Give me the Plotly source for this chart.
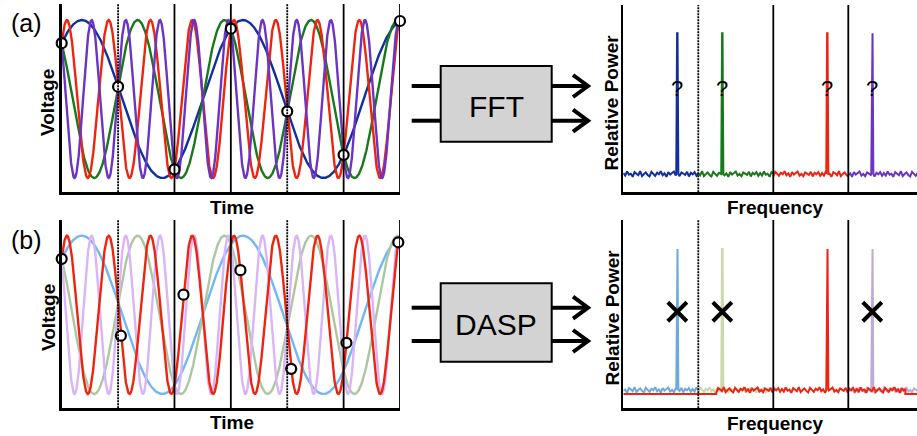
import numpy as np
import plotly.graph_objects as go

W, H = 917, 436
FONT = "Liberation Sans, Arial, sans-serif"

# ---------------- data ----------------
TIME_FREQS = [0.35, 0.65, 1.35, 1.65]          # cycles per sample interval
TIME_PHASES_DEG = [-45, 45, -45, 45]
TIME_COLORS_A = ["#10309E", "#18781A", "#EE2410", "#6C34C2"]
TIME_COLORS_B = ["#72B6F6", "#AEC6A0", "#EE2410", "#D9B5F7"]
DRAW_ORDER_B = [0, 1, 3, 2]
SAMPLE_TIMES_A = [0, 1, 2, 3, 4, 5, 6]
SAMPLE_TIMES_B = [0, 1.05, 2.16, 3.17, 4.07, 5.05, 5.97]
TIME_DIVIDERS = [1, 2, 3, 4, 5, 6]
TIME_DOTTED = [1, 4]

PEAK_FREQS = [0.36, 0.66, 1.36, 1.66]
ZONE_EDGES = [0.0, 0.5, 1.0, 1.5, 1.958]
SPEC_COLORS_A = ["#10309E", "#18781A", "#EE2410", "#6C34C2"]
SPEC_COLORS_B = ["#6EA9DE", "#C9D9AA", None, "#BDABD3"]
RED = "#EE2410"
RED_B_NOISY_SPAN = [0.62, 1.88]
RED_B_FLAT_LEVEL = -0.028
FREQ_DIVIDERS = [0.5, 1.0, 1.5]
FREQ_DOTTED = [0.5]
X_MARK_FREQS = [0.36, 0.66, 1.66]
NOISE = [0.3, -0.5, 0.8, -0.2, 0.1, -0.9, 0.6, 0.2, -0.4, 0.9, -0.7, 0.0, 0.5,
         -0.3, -0.8, 0.7, 0.1, -0.6, 0.4, -0.1, 0.9, -0.4, 0.2, -0.9, 0.6, -0.2,
         0.3, 0.8, -0.5, 0.0, -0.7, 0.5, 0.1, -0.3, 0.7, -0.8, 0.4, -0.1, 0.6, -0.6]
NOISE_AMP = 0.022
STEP = 0.0125


def px(x):
    return x / W


def py(y):
    return 1 - y / H


def signal(f, ph_deg, t):
    return np.cos(2 * np.pi * f * np.asarray(t, dtype=float) + np.deg2rad(ph_deg))


def spectrum_segment(x0, x1, peak, off, base=0.0):
    n = int(round((x1 - x0) / STEP))
    xs = [x0 + i * STEP for i in range(n + 1)]
    ys = [base + NOISE_AMP * NOISE[(i + off) % len(NOISE)] for i in range(n + 1)]
    pts = list(zip(xs, ys))
    if peak is not None:
        pts = [p for p in pts if abs(p[0] - peak) > 0.008]
        pts += [(peak - 0.007, base), (peak - 0.0015, 1.0), (peak + 0.0015, 1.0), (peak + 0.007, base)]
        pts.sort()
    return [p[0] for p in pts], [p[1] for p in pts]


fig = go.Figure()
t = np.linspace(0, 6, 1200)
marker_style = dict(size=10, color="white", line=dict(color="black", width=2.2))

# time panel (a)
for f, ph, c in zip(TIME_FREQS, TIME_PHASES_DEG, TIME_COLORS_A):
    fig.add_trace(go.Scatter(x=t, y=signal(f, ph, t), mode="lines",
                             line=dict(color=c, width=2.4), xaxis="x", yaxis="y"))
fig.add_trace(go.Scatter(x=SAMPLE_TIMES_A, y=signal(TIME_FREQS[0], TIME_PHASES_DEG[0], SAMPLE_TIMES_A),
                         mode="markers", cliponaxis=False, marker=marker_style,
                         xaxis="x", yaxis="y"))

# time panel (b)
for k in DRAW_ORDER_B:
    fig.add_trace(go.Scatter(x=t, y=signal(TIME_FREQS[k], TIME_PHASES_DEG[k], t), mode="lines",
                             line=dict(color=TIME_COLORS_B[k], width=2.4), xaxis="x3", yaxis="y3"))
fig.add_trace(go.Scatter(x=SAMPLE_TIMES_B, y=signal(TIME_FREQS[2], TIME_PHASES_DEG[2], SAMPLE_TIMES_B),
                         mode="markers", cliponaxis=False, marker=marker_style,
                         xaxis="x3", yaxis="y3"))

# spectrum panel (a)
for i, (c, pk) in enumerate(zip(SPEC_COLORS_A, PEAK_FREQS)):
    xs, ys = spectrum_segment(ZONE_EDGES[i], ZONE_EDGES[i + 1], pk, i * 7)
    fig.add_trace(go.Scatter(x=xs, y=ys, mode="lines", line=dict(color=c, width=2),
                             xaxis="x2", yaxis="y2"))

# spectrum panel (b)
for i, (c, pk) in enumerate(zip(SPEC_COLORS_B, PEAK_FREQS)):
    if c is None:
        continue
    xs, ys = spectrum_segment(ZONE_EDGES[i], ZONE_EDGES[i + 1], pk, i * 11 + 3)
    fig.add_trace(go.Scatter(x=xs, y=ys, mode="lines", line=dict(color=c, width=2),
                             xaxis="x4", yaxis="y4"))
rx, ry = spectrum_segment(RED_B_NOISY_SPAN[0], RED_B_NOISY_SPAN[1], PEAK_FREQS[2], 5)
rx = [ZONE_EDGES[0], RED_B_NOISY_SPAN[0]] + rx + [RED_B_NOISY_SPAN[1], ZONE_EDGES[-1]]
ry = [RED_B_FLAT_LEVEL, RED_B_FLAT_LEVEL] + ry + [RED_B_FLAT_LEVEL, RED_B_FLAT_LEVEL]
fig.add_trace(go.Scatter(x=rx, y=ry, mode="lines", line=dict(color=RED, width=2),
                         xaxis="x4", yaxis="y4"))
fig.add_trace(go.Scatter(x=X_MARK_FREQS, y=[0.555] * len(X_MARK_FREQS), mode="markers",
                         marker=dict(symbol="x-thin", size=19, line=dict(color="black", width=4)),
                         xaxis="x4", yaxis="y4"))

# ---------------- axes ----------------
ax_common = dict(showgrid=False, zeroline=False, showticklabels=False, ticks="",
                 showline=True, linecolor="black", linewidth=2.5, fixedrange=True)
dom_time_x = [px(61.7), px(400)]
dom_spec_x = [px(623.3), 1.0]
dom_a_y = [py(192.3), py(4)]
dom_b_y = [py(408.3), py(220)]
fig.update_layout(
    xaxis=dict(ax_common, domain=dom_time_x, range=[0, 6], anchor="y"),
    yaxis=dict(ax_common, domain=dom_a_y, range=[-1.181, 1.203], anchor="x"),
    xaxis2=dict(ax_common, domain=dom_spec_x, range=[ZONE_EDGES[0], ZONE_EDGES[-1]], anchor="y2"),
    yaxis2=dict(ax_common, domain=[py(192.3), py(5)], range=[-0.130, 1.201], anchor="x2"),
    xaxis3=dict(ax_common, domain=dom_time_x, range=[0, 6], anchor="y3"),
    yaxis3=dict(ax_common, domain=dom_b_y, range=[-1.181, 1.198], anchor="x3"),
    xaxis4=dict(ax_common, domain=dom_spec_x, range=[ZONE_EDGES[0], ZONE_EDGES[-1]], anchor="y4"),
    yaxis4=dict(ax_common, domain=dom_b_y, range=[-0.130, 1.206], anchor="x4"),
)

shapes = []
for xr, yr in (("x", "y"), ("x3", "y3")):
    for d in TIME_DIVIDERS:
        shapes.append(dict(type="line", xref=xr, yref=yr + " domain", x0=d, x1=d, y0=0, y1=1,
                           line=dict(color="black", width=1.8,
                                     dash="2px,1px" if d in TIME_DOTTED else "solid")))
for xr, yr in (("x2", "y2"), ("x4", "y4")):
    for d in FREQ_DIVIDERS:
        shapes.append(dict(type="line", xref=xr, yref=yr + " domain", x0=d, x1=d, y0=0, y1=1,
                           line=dict(color="black", width=1.8,
                                     dash="2px,1px" if d in FREQ_DOTTED else "solid")))

# process boxes with input lines and output arrows
annotations = []
for (top, bot, l1, l2, label, cy) in ((66, 141.7, 86, 120.7, "FFT", 106.7),
                                      (283.3, 361.7, 307.7, 341, "DASP", 324)):
    for yy in (l1, l2):
        shapes.append(dict(type="line", xref="paper", yref="paper", x0=px(411.7), x1=px(441),
                           y0=py(yy), y1=py(yy), line=dict(color="black", width=4)))
        shapes.append(dict(type="line", xref="paper", yref="paper", x0=px(551), x1=px(586),
                           y0=py(yy), y1=py(yy), line=dict(color="black", width=4)))
        shapes.append(dict(type="path", xref="paper", yref="paper",
                           path=f"M {px(573)} {py(yy - 11)} L {px(588)} {py(yy)} L {px(573)} {py(yy + 11)}",
                           line=dict(color="black", width=4)))
    shapes.append(dict(type="rect", xref="paper", yref="paper", x0=px(440.7), x1=px(551.7),
                       y0=py(bot), y1=py(top), fillcolor="#D3D3D3",
                       line=dict(color="black", width=2)))
    annotations.append(dict(text=label, xref="paper", yref="paper", x=px(496), y=py(cy),
                            showarrow=False, font=dict(family=FONT, size=30, color="black"),
                            xanchor="center", yanchor="middle"))


def lab(text, x, y, size=19, angle=0, bold=True):
    annotations.append(dict(text=f"<b>{text}</b>" if bold else text, xref="paper", yref="paper",
                            x=px(x), y=py(y), showarrow=False, textangle=angle,
                            font=dict(family=FONT, size=size, color="black"),
                            xanchor="center", yanchor="middle"))


lab("(a)", 26, 23, size=25, bold=False)
lab("(b)", 26, 240, size=25, bold=False)
lab("Voltage", 48, 103, angle=-90)
lab("Voltage", 48, 318, angle=-90)
lab("Time", 232, 207)
lab("Time", 232, 422)
lab("Relative Power", 611.5, 103, angle=-90)
lab("Relative Power", 611.5, 318, angle=-90)
lab("Frequency", 775, 207)
lab("Frequency", 775, 423)

for pk in PEAK_FREQS:
    annotations.append(dict(text="?", xref="x2", yref="y2", x=pk, y=0.61, showarrow=False,
                            font=dict(family=FONT, size=22, color="black"),
                            xanchor="center", yanchor="middle"))

fig.update_layout(width=W, height=H, margin=dict(l=0, r=0, t=0, b=0),
                  paper_bgcolor="white", plot_bgcolor="white", showlegend=False,
                  shapes=shapes, annotations=annotations)

fig.write_html("out.html", config={"displayModeBar": False, "staticPlot": True})

# remove the browser's default page margin so the figure sits at the window's corner
with open("out.html", "r", encoding="utf-8") as fh:
    html = fh.read()
html = html.replace("<head>", "<head><style>html,body{margin:0;padding:0;overflow:hidden;}</style>", 1)
with open("out.html", "w", encoding="utf-8") as fh:
    fh.write(html)
